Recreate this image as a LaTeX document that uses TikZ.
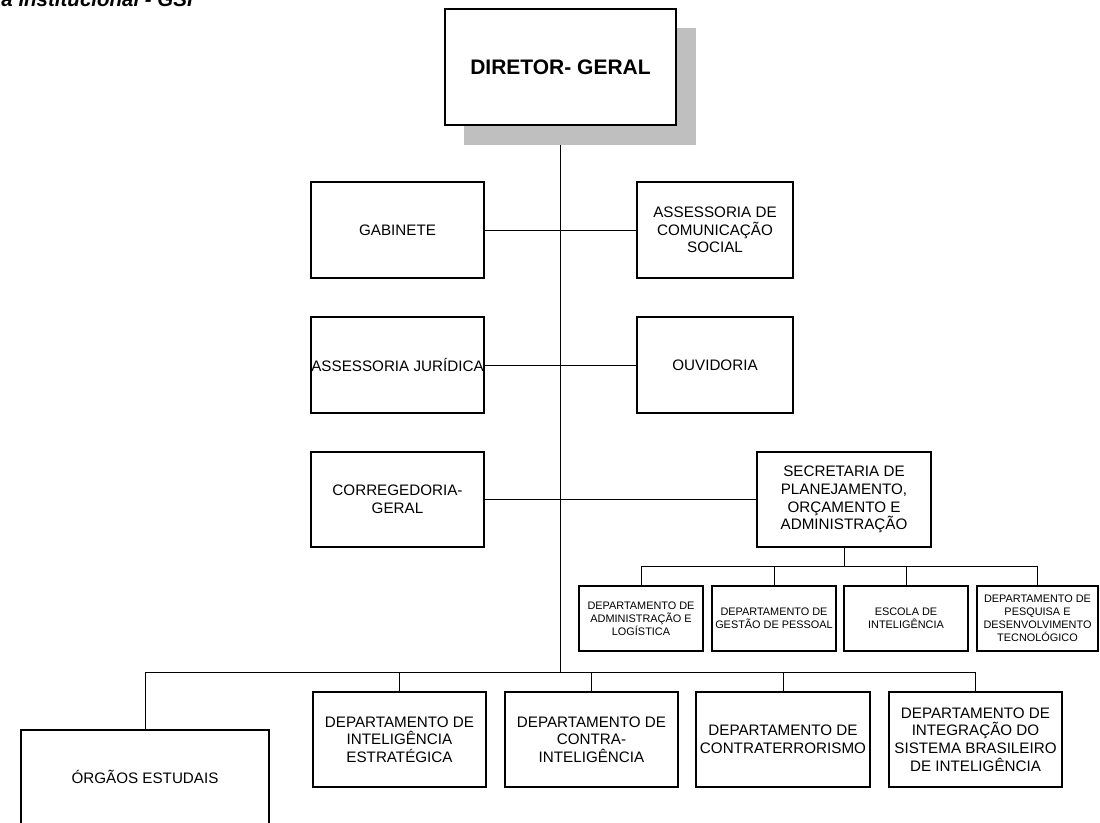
\documentclass[tikz,border=0pt]{standalone}
\usepackage{fontspec}
\setmainfont{Liberation Sans}
\begin{document}
\begin{tikzpicture}[x=1pt,y=-1pt,
  box/.style={draw=black, line width=1.3pt, fill=white, align=center, inner sep=1pt,
    font=\fontsize{15.2}{17.7}\selectfont},
  sbox/.style={draw=black, line width=1.2pt, fill=white, align=center, inner sep=1pt,
    font=\fontsize{10.9}{13}\selectfont, minimum height=65pt},
  conn/.style={draw=black, line width=0.9pt}]
\clip (0,0) rectangle (1100,822);
\fill[white] (0,0) rectangle (1100,822);
% title (cut at top)
\node[anchor=base east, inner sep=0pt, font=\fontsize{20.5}{24}\selectfont\bfseries\itshape] (title) at (193,6.5) {a Institucional - GSI};
% director with shadow
\node[fill=black!25, minimum width=232pt, minimum height=117pt, inner sep=0pt] (shadow) at (580,86.5) {};
\node[box, minimum width=231pt, minimum height=116pt, font=\fontsize{21}{25}\selectfont\bfseries] (dir) at (560.5,67) {DIRETOR- GERAL};
% upper boxes
\node[box, minimum width=173pt, minimum height=96pt] (gab) at (397.5,230) {GABINETE};
\node[box, minimum width=156pt, minimum height=96pt] (acs) at (715,230) {ASSESSORIA DE\\COMUNICAÇÃO\\SOCIAL};
\node[box, minimum width=173pt, minimum height=96pt, inner sep=0pt] (aj) at (397.5,365) {ASSESSORIA JURÍDICA};
\node[box, minimum width=156pt, minimum height=96pt] (ouv) at (715,365) {OUVIDORIA};
\node[box, minimum width=173pt, minimum height=95pt] (cor) at (397.5,499.5) {CORREGEDORIA-\\GERAL};
\node[box, minimum width=174pt, minimum height=95pt] (sec) at (844,499.5) {SECRETARIA DE\\PLANEJAMENTO,\\ORÇAMENTO E\\ADMINISTRAÇÃO};
% small boxes
\node[sbox, minimum width=124pt] (s1) at (641,618.5) {DEPARTAMENTO DE\\ADMINISTRAÇÃO E\\LOGÍSTICA};
\node[sbox, minimum width=124pt] (s2) at (774,618.5) {DEPARTAMENTO DE\\GESTÃO DE PESSOAL};
\node[sbox, minimum width=124pt] (s3) at (906,618.5) {ESCOLA DE\\INTELIGÊNCIA};
\node[sbox, minimum width=121pt] (s4) at (1037.5,618.5) {DEPARTAMENTO DE\\PESQUISA E\\DESENVOLVIMENTO\\TECNOLÓGICO};
% bottom boxes
\node[box, minimum width=173pt, minimum height=95pt] (dA) at (399.5,739.5) {DEPARTAMENTO DE\\INTELIGÊNCIA\\ESTRATÉGICA};
\node[box, minimum width=173pt, minimum height=95pt] (dB) at (591.5,739.5) {DEPARTAMENTO DE\\CONTRA-\\INTELIGÊNCIA};
\node[box, minimum width=174pt, minimum height=95pt, inner sep=0pt] (dC) at (783,739.5) {DEPARTAMENTO DE\\CONTRATERRORISMO};
\node[box, minimum width=173pt, minimum height=95pt] (dD) at (975.5,739.5) {DEPARTAMENTO DE\\INTEGRAÇÃO DO\\SISTEMA BRASILEIRO\\DE INTELIGÊNCIA};
\node[box, minimum width=248pt, minimum height=94pt] (org) at (145,777) {ÓRGÃOS ESTUDAIS};
% junction coordinates
\coordinate (bar) at (561,672);
\coordinate (sbar) at (844,566);
% connectors
\draw[conn] (dir.south |- shadow.south) -- (dir.south |- bar);
\draw[conn] (gab) -- (acs);
\draw[conn] (aj) -- (ouv);
\draw[conn] (cor) -- (sec);
\draw[conn] (sec.south) -- (sec.south |- sbar);
\draw[conn] (s1.north) -- (s1.north |- sbar) -- (s4.north |- sbar) -- (s4.north);
\draw[conn] (s2.north) -- (s2.north |- sbar);
\draw[conn] (s3.north) -- (s3.north |- sbar);
\draw[conn] (org.north) -- (org.north |- bar) -- (dD.north |- bar) -- (dD.north);
\draw[conn] (dA.north) -- (dA.north |- bar);
\draw[conn] (dB.north) -- (dB.north |- bar);
\draw[conn] (dC.north) -- (dC.north |- bar);
\end{tikzpicture}
\end{document}
